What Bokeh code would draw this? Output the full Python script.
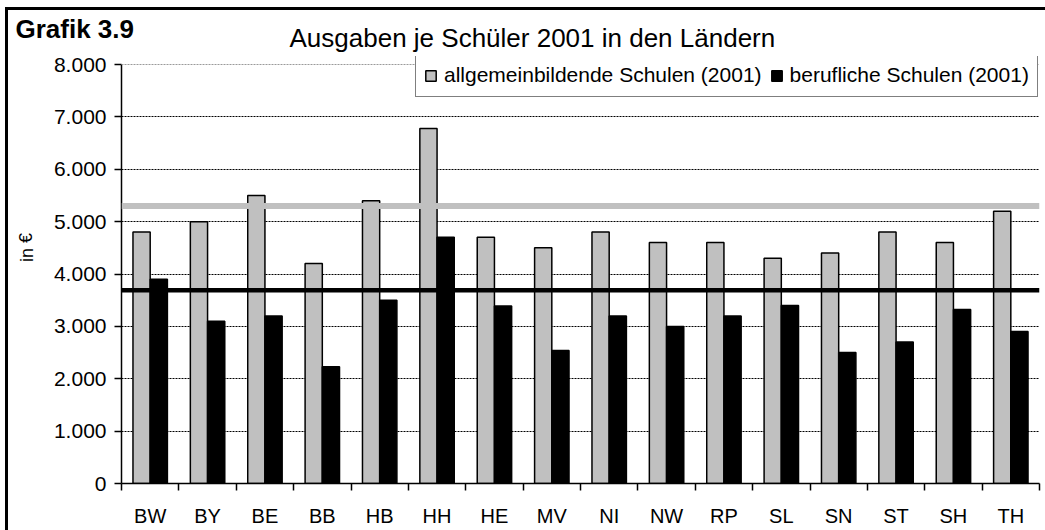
from bokeh.plotting import figure
from bokeh.layouts import column, row
from bokeh.models import (ColumnDataSource, Range1d, FixedTicker, CustomJSTickFormatter,
                          Span, Label, Legend, LegendItem)
from bokeh.transform import dodge
from bokeh.embed import file_html
from bokeh.resources import INLINE

# ---------------- data ----------------
laender = ["BW", "BY", "BE", "BB", "HB", "HH", "HE", "MV", "NI", "NW", "RP", "SL", "SN", "ST", "SH", "TH"]
allgemeinbildend = [4800, 5000, 5500, 4200, 5400, 6780, 4700, 4500, 4800, 4600, 4600, 4300, 4400, 4800, 4600, 5200]
beruflich = [3900, 3100, 3200, 2230, 3500, 4700, 3390, 2540, 3200, 3000, 3200, 3400, 2500, 2700, 3320, 2900]
mittel_allgemeinbildend = 5300
mittel_beruflich = 3690
y_ticks = [0, 1000, 2000, 3000, 4000, 5000, 6000, 7000, 8000]
serien = ["allgemeinbildende Schulen (2001)", "berufliche Schulen (2001)"]
grafik_nr = "Grafik 3.9"
titel = "Ausgaben je Schüler 2001 in den Ländern"
y_titel = "in €"

FONT = "Liberation Sans"
TOTAL_W = 1037
TOP_H = 44
MAIN_H = 476
STRIP_W = 40
Y_VIEW_MAX = 8153  # frame reaches a bit above the 8.000 line so the legend fits inside


def text_panel(width, height):
    f = figure(width=width, height=height, x_range=Range1d(0, 1), y_range=Range1d(0, 1),
               x_axis_location=None, y_axis_location=None, toolbar_location=None,
               output_backend="svg", min_border=0)
    f.outline_line_color = None
    f.background_fill_color = "white"
    f.border_fill_color = "white"
    f.grid.visible = False
    return f


# ---------------- header (titles) ----------------
top = text_panel(TOTAL_W, TOP_H)
top.add_layout(Label(x=7, y=26, x_units="screen", y_units="screen", text=grafik_nr,
                     text_font=FONT, text_font_size="26px", text_font_style="bold",
                     text_color="#000000", text_baseline="alphabetic"))
top.add_layout(Label(x=281, y=16.5, x_units="screen", y_units="screen", text=titel,
                     text_font=FONT, text_font_size="26px", text_color="#000000",
                     text_baseline="alphabetic"))

# ---------------- left strip (y title) ----------------
strip = text_panel(STRIP_W, MAIN_H)
strip.add_layout(Label(x=18, y=236, x_units="screen", y_units="screen", text=y_titel, angle=1.5708,
                       text_font=FONT, text_font_size="18px", text_color="#000000",
                       text_align="center", text_baseline="middle"))

# ---------------- main chart ----------------
n = len(laender)
src = ColumnDataSource(dict(x=[i + 0.5 for i in range(n)], allg=allgemeinbildend, beruf=beruflich))

p = figure(width=TOTAL_W - STRIP_W, height=MAIN_H, x_range=Range1d(0, n),
           y_range=Range1d(y_ticks[0], Y_VIEW_MAX),
           output_backend="svg", toolbar_location=None,
           min_border_left=73, min_border_top=2, min_border_bottom=47, min_border_right=6)
p.outline_line_color = None
p.background_fill_color = "white"
p.border_fill_color = "white"

# grid
p.xgrid.visible = False
p.ygrid.ticker = FixedTicker(ticks=y_ticks[1:-1])
p.ygrid.grid_line_color = "#000000"
p.ygrid.grid_line_dash = "2 1"
p.ygrid.grid_line_width = 1
p.add_layout(Span(location=y_ticks[-1], dimension="width", line_color="#9a9a9a",
                  line_dash="2 1", line_width=1))

# bars
r1 = p.vbar(x=dodge("x", -0.15), top="allg", width=0.3, source=src,
            fill_color="#C0C0C0", line_color="#000000", line_width=1.5)
r2 = p.vbar(x=dodge("x", 0.15), top="beruf", width=0.3, source=src,
            fill_color="#000000", line_color="#000000", line_width=1.5)

# reference lines
p.add_layout(Span(location=mittel_allgemeinbildend, dimension="width", line_color="#C0C0C0", line_width=6))
p.add_layout(Span(location=mittel_beruflich, dimension="width", line_color="#000000", line_width=4.5))

# x axis
xa = p.xaxis[0]
xa.ticker = FixedTicker(ticks=[i + 0.5 for i in range(n)], minor_ticks=list(range(n + 1)))
xa.major_label_overrides = {i + 0.5: lab for i, lab in enumerate(laender)}
xa.major_tick_line_color = None
xa.major_tick_out = 0
xa.major_tick_in = 0
xa.minor_tick_line_color = "#000000"
xa.minor_tick_out = 7
xa.minor_tick_in = 0
xa.minor_tick_line_width = 1.5
xa.axis_line_color = "#000000"
xa.axis_line_width = 1.5
xa.major_label_text_font = FONT
xa.major_label_text_font_size = "20px"
xa.major_label_text_color = "#000000"
xa.major_label_standoff = 14

# y axis
ya = p.yaxis[0]
ya.ticker = FixedTicker(ticks=y_ticks)
ya.bounds = (y_ticks[0], y_ticks[-1])
ya.formatter = CustomJSTickFormatter(code="return tick == 0 ? '0' : (tick/1000).toFixed(3);")
ya.major_tick_out = 7
ya.major_tick_in = 0
ya.major_tick_line_width = 1.5
ya.minor_tick_line_color = None
ya.axis_line_color = "#000000"
ya.axis_line_width = 1.5
ya.major_label_text_font = FONT
ya.major_label_text_font_size = "21px"
ya.major_label_text_color = "#000000"
ya.major_label_standoff = 8

# legend
legend = Legend(items=[LegendItem(label=serien[0], renderers=[r1]),
                       LegendItem(label=serien[1], renderers=[r2])],
                location=(294, 386), orientation="horizontal",
                border_line_color="#000000", border_line_width=1, background_fill_color="white",
                background_fill_alpha=1, padding=8, margin=0, spacing=8, label_standoff=7,
                glyph_width=13, glyph_height=13, label_height=26,
                label_text_font=FONT, label_text_font_size="21px", label_text_color="#000000")
p.add_layout(legend)

layout = column(top, row(strip, p, spacing=0), spacing=0)
layout.styles = {"margin-left": "5px", "margin-top": "7px",
                 "border-left": "3px solid black", "border-top": "3px solid black"}

open("out.html", "w").write(file_html(layout, INLINE))
